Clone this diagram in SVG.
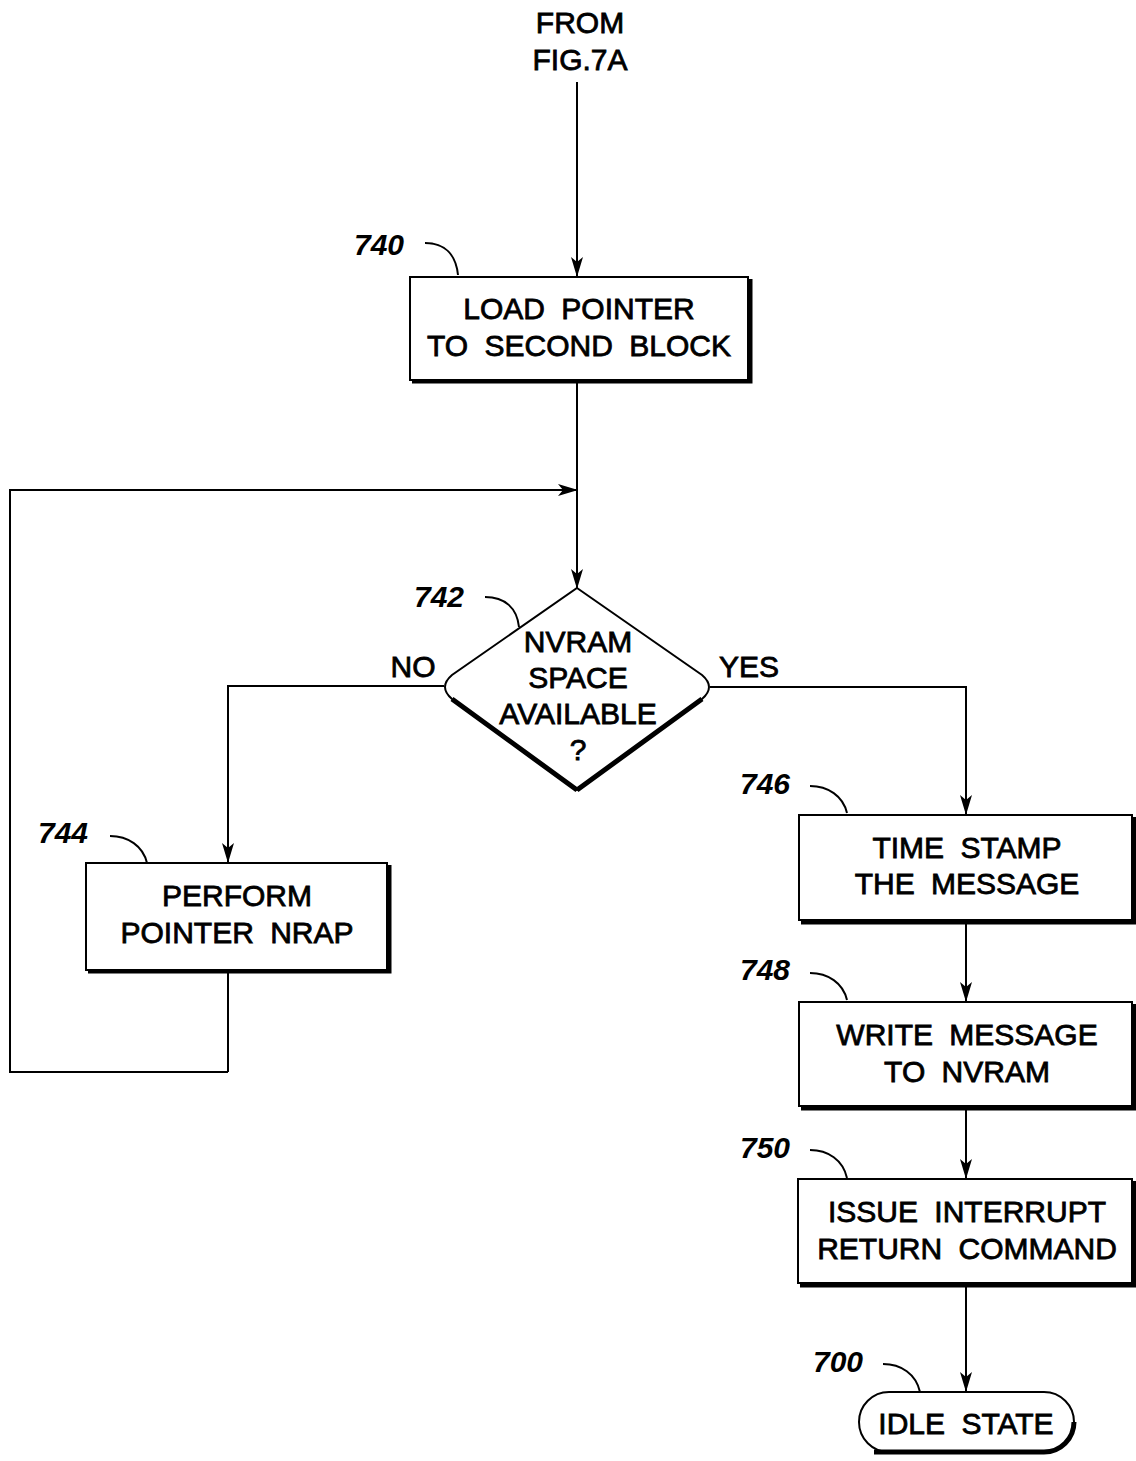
<svg xmlns="http://www.w3.org/2000/svg" width="1136" height="1461" viewBox="0 0 1136 1461">
<defs>
<marker id="arr" markerWidth="20" markerHeight="12" refX="19" refY="6" orient="auto" markerUnits="userSpaceOnUse">
<path d="M0,0 L20,6 L0,12 L5,6 Z" fill="#000"/>
</marker>
<style>
.box{fill:#fff;stroke:#000;stroke-width:2}
.sh{fill:none;stroke:#000;stroke-width:5}
.t{font-family:"Liberation Sans",Arial,sans-serif;font-size:30px;text-anchor:middle;fill:#000;stroke:#000;stroke-width:0.8;word-spacing:8px}
.ref{font-family:"Liberation Sans",Arial,sans-serif;font-size:30px;font-style:italic;font-weight:bold;fill:#000}
.ln{fill:none;stroke:#000;stroke-width:2}
.c{fill:none;stroke:#000;stroke-width:2;marker-end:url(#arr)}
</style>
</defs>
<rect width="1136" height="1461" fill="#fff"/>

<g id="connectors">
<line class="c" x1="577" y1="82" x2="577" y2="276"/>
<line class="ln" x1="577" y1="382" x2="577" y2="490"/>
<polyline class="c" points="228,1072 10,1072 10,490 577,490"/>
<line class="c" x1="577" y1="490" x2="577" y2="588"/>
<polyline class="ln" points="228,971 228,1072"/>
<polyline class="c" points="444,686 228,686 228,862"/>
<polyline class="c" points="710,687 966,687 966,814"/>
<line class="c" x1="966" y1="923" x2="966" y2="1001"/>
<line class="c" x1="966" y1="1110" x2="966" y2="1178"/>
<line class="c" x1="966" y1="1286" x2="966" y2="1391"/>
</g>

<g id="from">
<text class="t" x="580" y="33">FROM</text>
<text class="t" x="580" y="70">FIG.7A</text>
</g>

<g id="n740">
<path class="sh" d="M412,381 L750,381 L750,279"/>
<rect class="box" x="410" y="277" width="338" height="103"/>
<text class="t" x="579" y="319">LOAD POINTER</text>
<text class="t" x="579" y="356">TO SECOND BLOCK</text>
<text class="ref" x="354" y="255">740</text>
<path class="ln" d="M425,243 C445,243 456,255 458,275"/>
</g>

<g id="n742">
<path class="box" d="M577,588 L702,675 Q716,687 702,699 L577,790 L452,699 Q438,687 452,675 Z"/>
<path class="sh" d="M577,790 L452,699 M577,790 L702,699" stroke-width="3.5"/>
<text class="t" x="578" y="652">NVRAM</text>
<text class="t" x="578" y="688">SPACE</text>
<text class="t" x="578" y="724">AVAILABLE</text>
<text class="t" x="578" y="760">?</text>
<text class="ref" x="414" y="607">742</text>
<path class="ln" d="M485,597 C505,597 517,608 519,627"/>
<text class="t" x="413" y="677">NO</text>
<text class="t" x="749" y="677">YES</text>
</g>

<g id="n744">
<path class="sh" d="M88,971 L389,971 L389,865"/>
<rect class="box" x="86" y="863" width="301" height="107"/>
<text class="t" x="237" y="906">PERFORM</text>
<text class="t" x="237" y="943">POINTER NRAP</text>
<text class="ref" x="38" y="843">744</text>
<path class="ln" d="M110,836 C128,836 143,846 147,863"/>
</g>

<g id="n746">
<path class="sh" d="M801,922 L1134,922 L1134,817"/>
<rect class="box" x="799" y="815" width="333" height="105"/>
<text class="t" x="967" y="858">TIME STAMP</text>
<text class="t" x="967" y="894">THE MESSAGE</text>
<text class="ref" x="740" y="794">746</text>
<path class="ln" d="M810,786 C828,786 843,796 847,813"/>
</g>

<g id="n748">
<path class="sh" d="M801,1108 L1134,1108 L1134,1004"/>
<rect class="box" x="799" y="1002" width="333" height="104"/>
<text class="t" x="967" y="1045">WRITE MESSAGE</text>
<text class="t" x="967" y="1082">TO NVRAM</text>
<text class="ref" x="740" y="980">748</text>
<path class="ln" d="M810,973 C828,973 843,983 847,1000"/>
</g>

<g id="n750">
<path class="sh" d="M800,1285 L1134,1285 L1134,1181"/>
<rect class="box" x="798" y="1179" width="334" height="104"/>
<text class="t" x="967" y="1222">ISSUE INTERRUPT</text>
<text class="t" x="967" y="1259">RETURN COMMAND</text>
<text class="ref" x="740" y="1158">750</text>
<path class="ln" d="M810,1150 C828,1150 843,1160 847,1178"/>
</g>

<g id="n700">
<rect class="box" x="859" y="1392" width="215" height="60" rx="30" ry="30"/>
<path class="sh" d="M874,1452 L1044,1452 A30,30 0 0 0 1074,1422" stroke-width="3.5"/>
<text class="t" x="966" y="1434">IDLE STATE</text>
<text class="ref" x="813" y="1372">700</text>
<path class="ln" d="M883,1364 C901,1364 916,1374 920,1392"/>
</g>
</svg>
